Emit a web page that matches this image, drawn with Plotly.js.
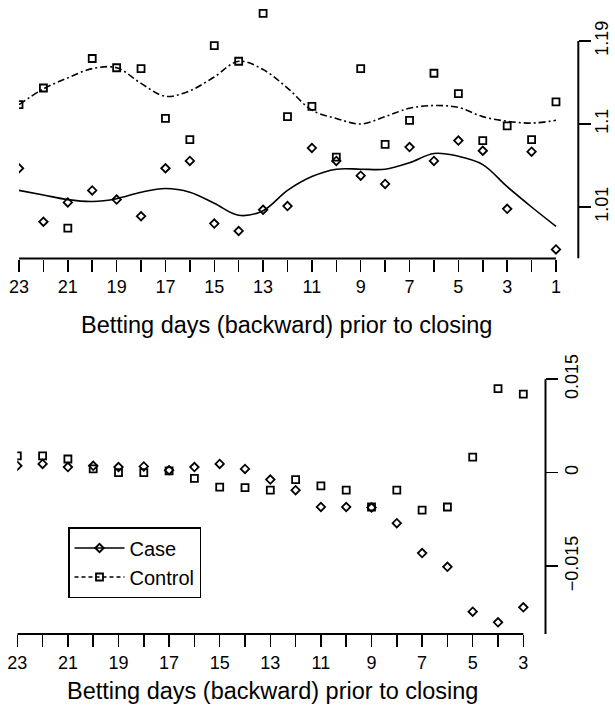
<!DOCTYPE html>
<html>
<head>
<meta charset="utf-8">
<script src="https://cdn.plot.ly/plotly-3.0.1.min.js"></script>
<style>
  html, body { margin: 0; padding: 0; background: #fff; }
  #chart { width: 615px; height: 710px; }
</style>
</head>
<body>
<div id="chart"></div>
<script>
// ---------- data ----------
const daysTop = [23,22,21,20,19,18,17,16,15,14,13,12,11,10,9,8,7,6,5,4,3,2,1];
const caseTop = [1.052,0.994,1.015,1.028,1.018,1.000,1.052,1.060,0.992,0.984,1.007,1.011,1.074,1.060,1.044,1.035,1.075,1.060,1.082,1.071,1.008,1.070,0.964];
const controlTop = [1.121,1.139,0.987,1.171,1.161,1.160,1.106,1.083,1.185,1.168,1.220,1.108,1.119,1.064,1.160,1.078,1.104,1.155,1.133,1.082,1.098,1.083,1.124];
const caseSmoothTop = [1.028,1.023,1.018,1.016,1.019,1.026,1.030,1.026,1.014,1.001,1.006,1.028,1.043,1.051,1.051,1.051,1.058,1.068,1.065,1.056,1.032,1.010,0.989];
const controlSmoothTop = [1.121,1.138,1.150,1.160,1.161,1.144,1.130,1.136,1.151,1.168,1.159,1.139,1.115,1.106,1.100,1.108,1.117,1.120,1.118,1.108,1.103,1.101,1.104];

const daysBottom = [23,22,21,20,19,18,17,16,15,14,13,12,11,10,9,8,7,6,5,4,3];
const caseBottom = [0.0011,0.0014,0.0009,0.0011,0.0009,0.0010,0.0004,0.0009,0.0014,0.0006,-0.0011,-0.0028,-0.0055,-0.0055,-0.0056,-0.0081,-0.0129,-0.0151,-0.0223,-0.0240,-0.0216];
const controlBottom = [0.0027,0.0027,0.0022,0.0006,0.0000,0.0000,0.0003,-0.0009,-0.0023,-0.0024,-0.0028,-0.0011,-0.0021,-0.0028,-0.0055,-0.0028,-0.0060,-0.0055,0.0025,0.0135,0.0126];

const topXTickVals = daysTop;
const topXTickText = ['23','','21','','19','','17','','15','','13','','11','','9','','7','','5','','3','','1'];
const bottomXTickVals = daysBottom;
const bottomXTickText = ['23','','21','','19','','17','','15','','13','','11','','9','','7','','5','','3'];
const topYTickVals = [1.01, 1.1, 1.19];
const topYTickText = ['1.01', '1.1', '1.19'];
const bottomYTickVals = [-0.015, 0, 0.015];
const bottomYTickText = ['\u22120.015', '0', '0.015'];

const xTitle = 'Betting days (backward) prior to closing';
const seriesNames = ['Case', 'Control'];

// ---------- styling ----------
const FONT = 'Liberation Sans, Arial, sans-serif';
const BLACK = '#000';
const DASH = '7px,3px,2px,3px';
const diamond = {symbol: 'diamond-open', size: 6.5, color: BLACK, line: {color: BLACK, width: 1.8}};
const square = {symbol: 'square-open', size: 7, color: BLACK, line: {color: BLACK, width: 1.8}};

const topYRange = [0.95415, 1.22904];
const botYRange = [-0.025879, 0.017279];

const traces = [
  {x: daysTop, y: caseSmoothTop, mode: 'lines', line: {color: BLACK, width: 1.6, shape: 'spline'}, xaxis: 'x', yaxis: 'y', showlegend: false, hoverinfo: 'skip'},
  {x: daysTop, y: controlSmoothTop, mode: 'lines', line: {color: BLACK, width: 1.6, dash: DASH, shape: 'spline'}, xaxis: 'x', yaxis: 'y', showlegend: false, hoverinfo: 'skip'},
  {x: daysTop, y: caseTop, mode: 'markers', marker: diamond, xaxis: 'x', yaxis: 'y', showlegend: false},
  {x: daysTop, y: controlTop, mode: 'markers', marker: square, xaxis: 'x', yaxis: 'y', showlegend: false},
  {x: daysBottom, y: caseBottom, mode: 'markers', marker: diamond, xaxis: 'x2', yaxis: 'y2', showlegend: false},
  {x: daysBottom, y: controlBottom, mode: 'markers', marker: square, xaxis: 'x2', yaxis: 'y2', showlegend: false},
  // legend keys (no data drawn)
  {x: [null], y: [null], name: seriesNames[0], mode: 'lines+markers', line: {color: BLACK, width: 1.5}, marker: diamond, xaxis: 'x2', yaxis: 'y2', showlegend: true},
  {x: [null], y: [null], name: seriesNames[1], mode: 'lines+markers', line: {color: BLACK, width: 1.5, dash: '4px,3px'}, marker: square, xaxis: 'x2', yaxis: 'y2', showlegend: true}
];

const xCommon = {
  ticks: 'outside', ticklen: 12, tickwidth: 1.5, tickcolor: BLACK,
  showline: false, showgrid: false, zeroline: false,
  tickfont: {family: FONT, size: 18, color: BLACK}, tickmode: 'array', fixedrange: true
};
const yCommon = {
  side: 'right', ticks: 'outside', ticklen: 12, tickwidth: 1.5, tickcolor: BLACK,
  showline: false, showgrid: false, zeroline: false, tickangle: -90,
  tickfont: {family: FONT, size: 18, color: BLACK}, tickmode: 'array', fixedrange: true
};

const layout = {
  width: 615, height: 710,
  margin: {l: 0, r: 0, t: 0, b: 0, pad: 0},
  paper_bgcolor: '#fff', plot_bgcolor: 'rgba(0,0,0,0)',
  font: {family: FONT, color: BLACK},
  showlegend: true,
  xaxis: Object.assign({}, xCommon, {domain: [0.030894, 0.94033], range: [23, 0.086], anchor: 'y', tickvals: topXTickVals, ticktext: topXTickText}),
  yaxis: Object.assign({}, yCommon, {domain: [0.6359, 0.993], range: topYRange, anchor: 'x', tickvals: topYTickVals, ticktext: topYTickText, ticklabelstandoff: -5}),
  xaxis2: Object.assign({}, xCommon, {domain: [0.02813, 0.88699], range: [23, 2.123], anchor: 'y2', tickvals: bottomXTickVals, ticktext: bottomXTickText}),
  yaxis2: Object.assign({}, yCommon, {domain: [0.10704, 0.48592], range: botYRange, anchor: 'x2', tickvals: bottomYTickVals, ticktext: bottomYTickText, ticklabelstandoff: -2}),
  shapes: [
    {type: 'line', xref: 'x', yref: 'y domain', x0: daysTop[0], x1: daysTop[daysTop.length-1], y0: 0, y1: 0, line: {color: BLACK, width: 2}},
    {type: 'line', xref: 'x domain', yref: 'y', x0: 1, x1: 1, y0: topYTickVals[2], y1: topYRange[0], line: {color: BLACK, width: 2}},
    {type: 'line', xref: 'x2', yref: 'y2 domain', x0: daysBottom[0], x1: daysBottom[daysBottom.length-1], y0: 0, y1: 0, line: {color: BLACK, width: 2}},
    {type: 'line', xref: 'x2 domain', yref: 'y2', x0: 1, x1: 1, y0: bottomYTickVals[2], y1: botYRange[0], line: {color: BLACK, width: 2}}
  ],
  annotations: [
    {text: xTitle, xref: 'paper', yref: 'paper', x: 286/615, y: (710-325)/710, xanchor: 'center', yanchor: 'middle', showarrow: false, font: {family: FONT, size: 23.5, color: BLACK}},
    {text: xTitle, xref: 'paper', yref: 'paper', x: 272/615, y: (710-691)/710, xanchor: 'center', yanchor: 'middle', showarrow: false, font: {family: FONT, size: 23.5, color: BLACK}}
  ],
  legend: {
    x: 68/615, y: (710-527)/710, xanchor: 'left', yanchor: 'top',
    bordercolor: BLACK, borderwidth: 1.5, bgcolor: '#fff',
    font: {family: FONT, size: 20, color: BLACK}, itemwidth: 50, tracegroupgap: 0
  }
};

Plotly.newPlot('chart', traces, layout, {staticPlot: true, displayModeBar: false});
</script>
</body>
</html>
